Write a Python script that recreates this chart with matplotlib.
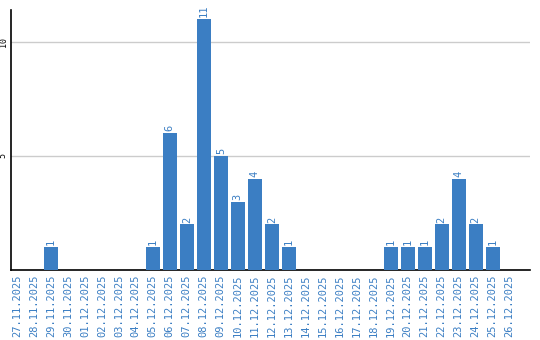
import matplotlib
matplotlib.use("Agg")
import matplotlib.pyplot as plt

dates = ["27.11.2025", "28.11.2025", "29.11.2025", "30.11.2025", "01.12.2025",
         "02.12.2025", "03.12.2025", "04.12.2025", "05.12.2025", "06.12.2025",
         "07.12.2025", "08.12.2025", "09.12.2025", "10.12.2025", "11.12.2025",
         "12.12.2025", "13.12.2025", "14.12.2025", "15.12.2025", "16.12.2025",
         "17.12.2025", "18.12.2025", "19.12.2025", "20.12.2025", "21.12.2025",
         "22.12.2025", "23.12.2025", "24.12.2025", "25.12.2025", "26.12.2025"]
values = [0, 0, 1, 0, 0, 0, 0, 0, 1, 6, 2, 11, 5, 3, 4, 2, 1, 0, 0, 0, 0, 0,
          1, 1, 1, 2, 4, 2, 1, 0]
yticks = [5, 10]

blue = "#3b7ec3"
fig = plt.figure(figsize=(5.4, 3.4), dpi=100)
ax = fig.add_axes([10.5/540, 70/340, (530-10.5)/540, 260/340])
x = list(range(len(dates)))
ax.bar(x, values, width=0.82, color=blue, zorder=3)
for xi, v in zip(x, values):
    if v > 0:
        ax.text(xi, v + 0.08, str(v), rotation=90, ha="center", va="bottom",
                color=blue, fontsize=7.5, family="DejaVu Sans Mono")
ax.set_xlim(-0.38, 30.2)
ax.set_ylim(0, 11.4)
ax.set_xticks(x)
ax.set_xticklabels(dates, rotation=90, color=blue, fontsize=7.5,
                   family="DejaVu Sans Mono")
ax.set_yticks(yticks)
ax.set_yticklabels([str(t) for t in yticks], rotation=90, fontsize=6,
                   family="DejaVu Sans Mono", va="center")
ax.tick_params(axis="both", length=0, pad=3)
ax.tick_params(axis="y", pad=2)
ax.grid(axis="y", color="#cccccc", linewidth=1, zorder=0)
for s in ["top", "right"]:
    ax.spines[s].set_visible(False)
ax.spines["left"].set_linewidth(1.2)
ax.spines["bottom"].set_linewidth(1.2)
fig.savefig("out.png", dpi=100)
